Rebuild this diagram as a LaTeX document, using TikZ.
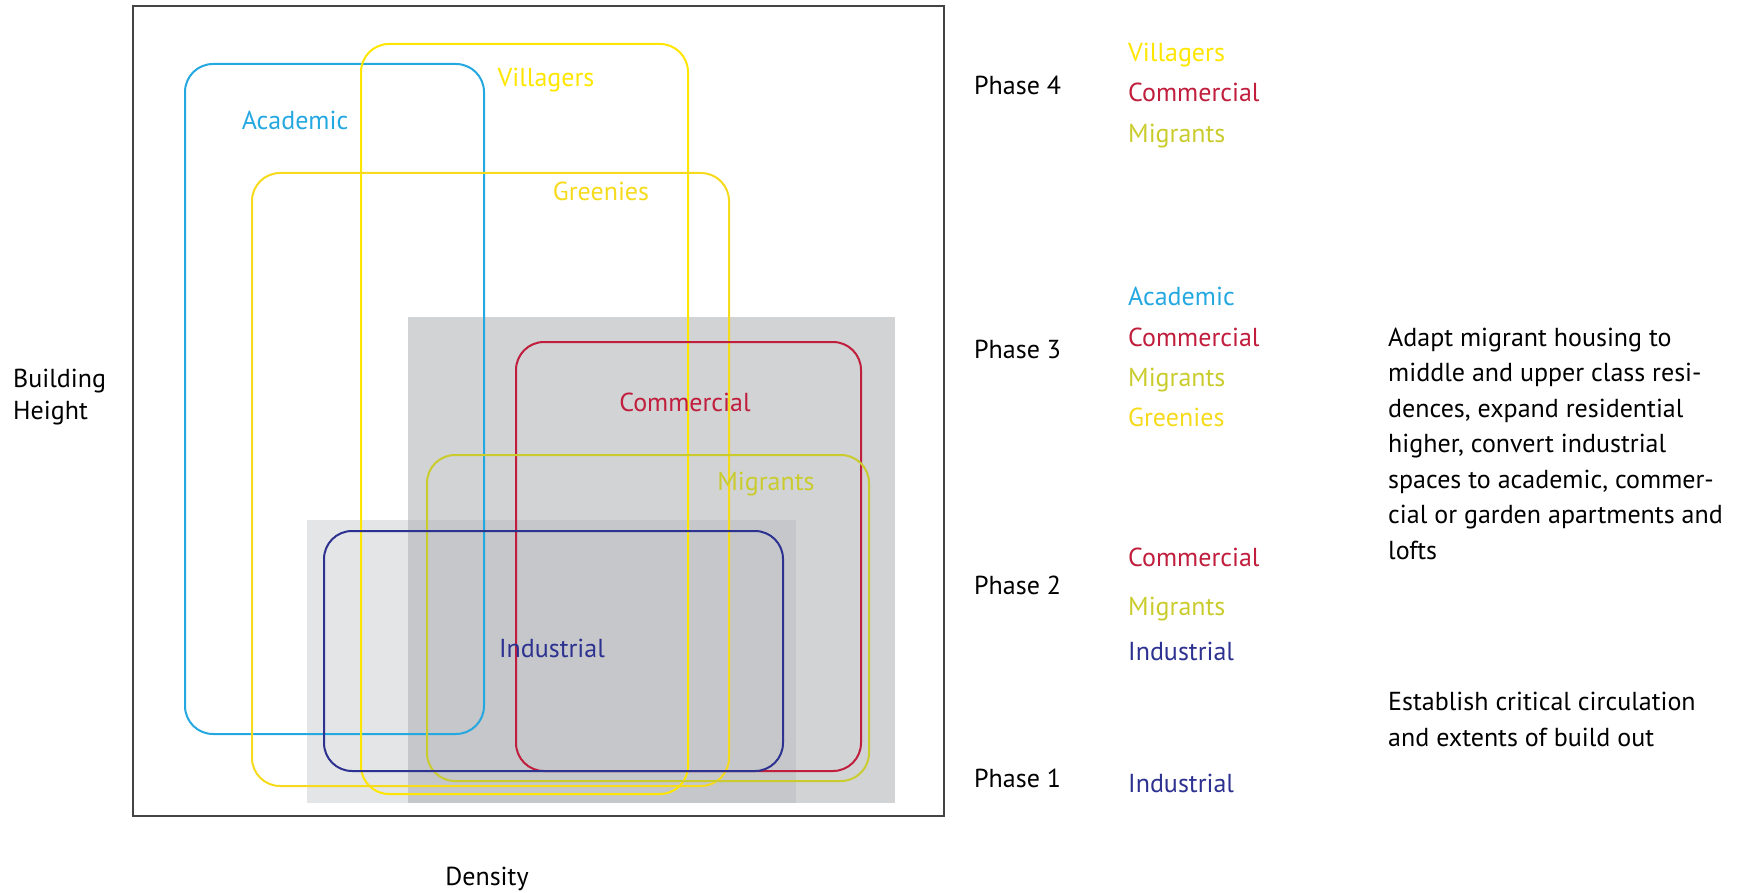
\documentclass[tikz,border=0pt]{standalone}
\usepackage{fontspec}
\setmainfont{PT Sans}
\definecolor{acadc}{HTML}{25A8E0}
\definecolor{villc}{HTML}{FFE600}
\definecolor{greenc}{HTML}{F6DA1C}
\definecolor{migc}{HTML}{CACC2E}
\definecolor{comc}{HTML}{C01E3C}
\definecolor{indc}{HTML}{2D3190}
\definecolor{graybig}{HTML}{D1D3D5}
\definecolor{graysmall}{HTML}{E4E5E7}
\definecolor{grayover}{HTML}{C5C7CA}
\definecolor{framec}{HTML}{444444}
\begin{document}
\begin{tikzpicture}[x=1pt,y=-1pt,
  lbl/.style={font=\fontsize{26}{31}\selectfont, inner sep=0pt, text height=19pt, text depth=5pt, yshift=-2pt},
  rr/.style={rounded corners=28pt, line width=2pt}]
\useasboundingbox (0,0) rectangle (1743,893);
% gray zones
\fill[graysmall] (307,520) rectangle (796,803);
\fill[graybig] (408,317) rectangle (895,803);
\fill[grayover] (408,520) rectangle (796,803);
% frame
\draw[framec, line width=2pt] (133,6) rectangle (944,816);
% rounded outlines
\draw[rr, acadc] (185,64) rectangle (484,734);
\draw[rr, villc] (361,44) rectangle (688,794);
\draw[rr, greenc] (252,173) rectangle (729,786);
\draw[rr, comc] (516,342) rectangle (861,771);
\draw[rr, migc] (427,455) rectangle (869,781);
\draw[rr, indc] (324,531) rectangle (783,771);
% labels in chart
\node[lbl, text=acadc] (lacad) at (295,121) {Academic};
\node[lbl, text=villc] (lvill) at (546,78) {Villagers};
\node[lbl, text=greenc] (lgreen) at (601,192) {Greenies};
\node[lbl, text=comc] (lcom) at (685,402) {Commercial};
\node[lbl, text=migc] (lmig) at (766,481) {Migrants};
\node[lbl, text=indc] (lind) at (552,648) {Industrial};
% axes
\node[lbl, anchor=west] (bh1) at (13,378) {Building};
\node[lbl, anchor=west] (bh2) at (13,410) {Height};
\node[lbl] (dens) at (487,876) {Density};
% phases
\node[lbl, anchor=west] (ph4) at (974,86) {Phase 4};
\node[lbl, anchor=west, text=villc] (p4a) at (1128,53) {Villagers};
\node[lbl, anchor=west, text=comc] (p4b) at (1128,93) {Commercial};
\node[lbl, anchor=west, text=migc] (p4c) at (1128,134) {Migrants};
\node[lbl, anchor=west] (ph3) at (974,350) {Phase 3};
\node[lbl, anchor=west, text=acadc] (p3a) at (1128,297) {Academic};
\node[lbl, anchor=west, text=comc] (p3b) at (1128,337) {Commercial};
\node[lbl, anchor=west, text=migc] (p3c) at (1128,377) {Migrants};
\node[lbl, anchor=west, text=greenc] (p3d) at (1128,417) {Greenies};
\node[lbl, anchor=west] (ph2) at (974,585) {Phase 2};
\node[lbl, anchor=west, text=comc] (p2a) at (1128,557) {Commercial};
\node[lbl, anchor=west, text=migc] (p2b) at (1128,606) {Migrants};
\node[lbl, anchor=west, text=indc] (p2c) at (1128,651) {Industrial};
\node[lbl, anchor=west] (ph1) at (974,778) {Phase 1};
\node[lbl, anchor=west, text=indc] (p1a) at (1128,783) {Industrial};
% descriptions
\node[lbl, anchor=west] (d1) at (1388,337) {Adapt migrant housing to};
\node[lbl, anchor=west] (d2) at (1388,372.5) {middle and upper class resi-};
\node[lbl, anchor=west] (d3) at (1388,408) {dences, expand residential};
\node[lbl, anchor=west] (d4) at (1388,443.5) {higher, convert industrial};
\node[lbl, anchor=west] (d5) at (1388,479) {spaces to academic, commer-};
\node[lbl, anchor=west] (d6) at (1388,514.5) {cial or garden apartments and};
\node[lbl, anchor=west] (d7) at (1388,550) {lofts};
\node[lbl, anchor=west] (e1) at (1388,701) {Establish critical circulation};
\node[lbl, anchor=west] (e2) at (1388,737) {and extents of build out};
\end{tikzpicture}
\end{document}
